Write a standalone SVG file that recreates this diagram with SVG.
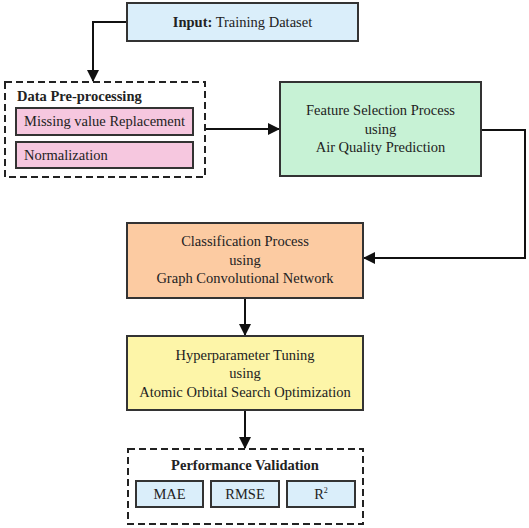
<svg xmlns="http://www.w3.org/2000/svg" width="529" height="528" viewBox="0 0 529 528">
<defs>
<style>
text{font-family:"Liberation Serif","Times New Roman",serif;font-size:14.5px;fill:#222;}
.b{font-weight:bold;}
.box{stroke:#333;stroke-width:2;}
.dash{fill:#fff;stroke:#222;stroke-width:2;stroke-dasharray:7,4;}
.con{fill:none;stroke:#111;stroke-width:2;}
.m{text-anchor:middle;}
</style>
<marker id="ah" markerWidth="8" markerHeight="8" refX="7" refY="4" orient="auto" markerUnits="userSpaceOnUse" viewBox="0 0 8 8">
<path d="M0,0 L8,4 L0,8 Z" fill="#111"/>
</marker>
<marker id="ah2" markerWidth="12" markerHeight="12" refX="11" refY="6" orient="auto" markerUnits="userSpaceOnUse" viewBox="0 0 12 12">
<path d="M0,0 L12,6 L0,12 Z" fill="#111"/>
</marker>
</defs>
<rect width="529" height="528" fill="#fff"/>
<g id="connectors">
<path class="con" d="M127,22 H93 V81" marker-end="url(#ah2)"/>
<path class="con" d="M206,129 H279" marker-end="url(#ah2)"/>
<path class="con" d="M482,130 H525 V258 H364" marker-end="url(#ah2)"/>
<path class="con" d="M245,299 V335" marker-end="url(#ah2)"/>
<path class="con" d="M245,411 V448" marker-end="url(#ah2)"/>
</g>
<g id="input">
<rect class="box" x="127" y="3" width="231" height="38" fill="#daeefa"/>
<text x="242.5" y="27" class="m"><tspan class="b">Input:</tspan> Training Dataset</text>
</g>
<g id="preprocessing">
<rect class="dash" x="5" y="82" width="200" height="95"/>
<text x="17" y="101" class="b">Data Pre-processing</text>
<g id="missing">
<rect class="box" x="16" y="108" width="177" height="27" fill="#f6c7df"/>
<text x="24" y="126">Missing value Replacement</text>
</g>
<g id="normalization">
<rect class="box" x="16" y="142" width="177" height="26" fill="#f6c7df"/>
<text x="24" y="160">Normalization</text>
</g>
</g>
<g id="feature">
<rect class="box" x="280" y="82" width="201" height="94" fill="#c7f2d5"/>
<text x="380.5" y="115" class="m">Feature Selection Process</text>
<text x="380.5" y="134" class="m">using</text>
<text x="380.5" y="152" class="m">Air Quality Prediction</text>
</g>
<g id="classification">
<rect class="box" x="127" y="223" width="236" height="75" fill="#fccba2"/>
<text x="245" y="246" class="m">Classification Process</text>
<text x="245" y="265" class="m">using</text>
<text x="245" y="283" class="m">Graph Convolutional Network</text>
</g>
<g id="hyperparameter">
<rect class="box" x="127" y="336" width="236" height="74" fill="#fdf5a8"/>
<text x="245" y="360" class="m">Hyperparameter Tuning</text>
<text x="245" y="378" class="m">using</text>
<text x="245" y="397" class="m">Atomic Orbital Search Optimization</text>
</g>
<g id="performance">
<rect class="dash" x="128" y="449" width="235" height="75"/>
<text x="245" y="470" class="m b">Performance Validation</text>
<g id="mae">
<rect class="box" x="136" y="481" width="67" height="26" fill="#daeefa"/>
<text x="169.5" y="499" class="m">MAE</text>
</g>
<g id="rmse">
<rect class="box" x="211" y="481" width="68" height="26" fill="#daeefa"/>
<text x="245" y="499" class="m">RMSE</text>
</g>
<g id="r2">
<rect class="box" x="287" y="481" width="68" height="26" fill="#daeefa"/>
<text x="321" y="499" class="m">R<tspan dy="-6" font-size="8">2</tspan></text>
</g>
</g>
</svg>
